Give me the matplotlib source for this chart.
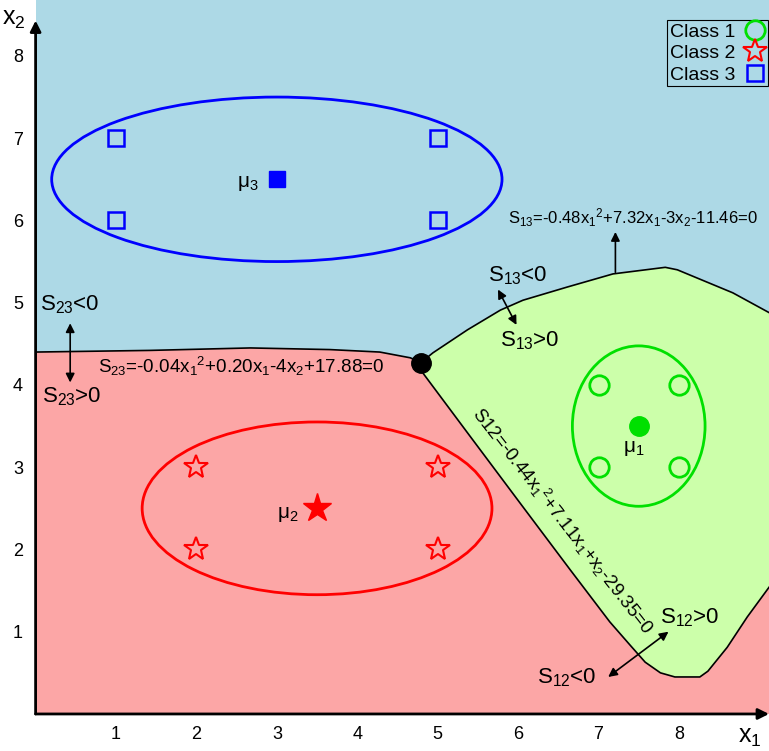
import numpy as np
import matplotlib
matplotlib.use("Agg")
import matplotlib.pyplot as plt
from matplotlib.patches import Ellipse

plt.rcParams['font.family'] = ['Liberation Sans', 'DejaVu Sans']
plt.rcParams['mathtext.fontset'] = 'custom'
plt.rcParams['mathtext.rm'] = 'Liberation Sans'
plt.rcParams['mathtext.it'] = 'Liberation Sans'

# samples of the three classes
class1_x = [7, 8, 7, 8]
class1_y = [4, 4, 3, 3]
class2_x = [2, 5, 2, 5]
class2_y = [3, 3, 2, 2]
class3_x = [1, 5, 1, 5]
class3_y = [7, 7, 6, 6]

# class means
mu_x = [7.5, 3.5, 3.0]
mu_y = [3.5, 2.5, 6.5]

# ellipse (width, height) around each mean
ell_w = [1.65, 4.35, 5.6]
ell_h = [1.95, 2.1, 2.0]

# decision boundaries (start at the triple point)
s23_x = [0.0, 1.42, 2.67, 3.66, 4.28, 4.66, 4.79]
s23_y = [4.40, 4.42, 4.45, 4.43, 4.40, 4.33, 4.27]
s13_x = [4.79, 4.94, 5.37, 5.78, 6.06, 6.61, 7.18, 7.83, 7.98, 8.67, 9.12]
s13_y = [4.27, 4.39, 4.67, 4.91, 5.03, 5.19, 5.35, 5.43, 5.40, 5.12, 4.88]
s12_x = [4.79, 4.82, 5.40, 6.02, 6.65, 7.14, 7.39, 7.58, 7.77, 7.95, 8.26, 8.36, 8.60, 8.85, 9.12]
s12_y = [4.27, 4.14, 3.38, 2.57, 1.75, 1.12, 0.84, 0.63, 0.50, 0.45, 0.45, 0.52, 0.81, 1.18, 1.54]

x_ticks = [1, 2, 3, 4, 5, 6, 7, 8]
y_ticks = [1, 2, 3, 4, 5, 6, 7, 8]

XMAX, YMAX = 9.12, 8.68

blue_bg = '#add9e6'
red_bg = '#fca6a6'
green_bg = '#ccffaa'
green = '#00e000'

fig = plt.figure(figsize=(7.69, 7.51), dpi=100)
ax = fig.add_axes([0.0463, 0.0493, 0.9537, 0.9507])
ax.set_facecolor(blue_bg)
ax.set_xlim(0, XMAX)
ax.set_ylim(0, YMAX)

# regions
red_poly = [(0, 0)] + list(zip(s23_x, s23_y)) + list(zip(s12_x[1:], s12_y[1:])) + [(XMAX, 0)]
ax.fill(*zip(*red_poly), color=red_bg, lw=0, zorder=1)
green_poly = list(zip(s13_x, s13_y)) + list(zip(s12_x[::-1], s12_y[::-1]))
ax.fill(*zip(*green_poly), color=green_bg, lw=0, zorder=1)

for bx, by in [(s23_x, s23_y), (s13_x, s13_y), (s12_x, s12_y)]:
    ax.plot(bx, by, color='black', lw=1.2, zorder=2)
ax.plot(s12_x[0], s12_y[0], 'o', color='black', ms=14, zorder=6)

# ellipses
for cx, cy, w, h, c in zip(mu_x, mu_y, ell_w, ell_h, [green, 'red', 'blue']):
    ax.add_patch(Ellipse((cx, cy), w, h, fill=False, ec=c, lw=2, zorder=3))

# samples
ax.plot(class1_x, class1_y, 'o', mfc='none', mec=green, mew=2, ms=14, ls='none', zorder=4, label='Class 1')
ax.plot(class2_x, class2_y, '*', mfc='none', mec='red', mew=1.5, ms=18, ls='none', zorder=4, label='Class 2')
ax.plot(class3_x, class3_y, 's', mfc='none', mec='blue', mew=1.8, ms=11, ls='none', zorder=4, label='Class 3')

# means
ax.plot(mu_x[0], mu_y[0], 'o', color=green, ms=14, zorder=5)
ax.plot(mu_x[1], mu_y[1], '*', color='red', ms=21, zorder=5)
ax.plot(mu_x[2], mu_y[2], 's', color='blue', ms=11, zorder=5)
ax.text(mu_x[0] - 0.06, mu_y[0] - 0.27, 'μ$_1$', fontsize=15, ha='center', va='center')
ax.text(mu_x[1] - 0.36, mu_y[1] - 0.07, 'μ$_2$', fontsize=15, ha='center', va='center')
ax.text(mu_x[2] - 0.36, mu_y[2] - 0.05, 'μ$_3$', fontsize=15, ha='center', va='center')

# equations
ax.text(5.88, 6.03, r'$\mathregular{S_{13}}$=-0.48x$_1$$^2$+7.32x$_1$-3x$_2$-11.46=0',
        fontsize=12, ha='left', va='center')
ax.text(2.55, 4.22, r'$\mathregular{S_{23}}$=-0.04x$_1$$^2$+0.20x$_1$-4x$_2$+17.88=0',
        fontsize=13.5, ha='center', va='center')
ax.text(6.55, 2.35, 'S12=-0.44x$_1$$^2$+7.11x$_1$+x$_2$-29.35=0',
        fontsize=13.5, ha='center', va='center', rotation=-52, rotation_mode='anchor')

arr = dict(arrowstyle='<|-|>', color='black', lw=1.2, mutation_scale=13, shrinkA=0, shrinkB=0)
ax.annotate('', xy=(7.21, 5.86), xytext=(7.21, 5.37),
            arrowprops=dict(arrowstyle='-|>', color='black', lw=1.2, mutation_scale=13, shrinkA=0, shrinkB=0))
ax.annotate('', xy=(5.75, 5.16), xytext=(5.98, 4.73), arrowprops=arr)
ax.annotate('', xy=(0.43, 4.75), xytext=(0.43, 4.03), arrowprops=arr)
ax.annotate('', xy=(7.12, 0.45), xytext=(7.87, 1.0), arrowprops=arr)

ax.text(5.99, 5.33, 'S$_{13}$<0', fontsize=16, ha='center', va='center')
ax.text(6.15, 4.54, 'S$_{13}$>0', fontsize=16, ha='center', va='center')
ax.text(0.43, 4.98, 'S$_{23}$<0', fontsize=16, ha='center', va='center')
ax.text(0.45, 3.86, 'S$_{23}$>0', fontsize=16, ha='center', va='center')
ax.text(8.14, 1.17, 'S$_{12}$>0', fontsize=16, ha='center', va='center')
ax.text(6.61, 0.44, 'S$_{12}$<0', fontsize=16, ha='center', va='center')

# axes with arrows
for s in ax.spines.values():
    s.set_visible(False)
ax.annotate('', xy=(XMAX, 0), xytext=(0, 0), annotation_clip=False,
            arrowprops=dict(arrowstyle='-|>', color='black', lw=2, mutation_scale=16, shrinkA=0, shrinkB=0))
ax.annotate('', xy=(0, 8.43), xytext=(0, 0), annotation_clip=False,
            arrowprops=dict(arrowstyle='-|>', color='black', lw=2, mutation_scale=16, shrinkA=0, shrinkB=0))
ax.text(8.88, -0.28, 'x$_1$', fontsize=18, ha='center', va='center')
ax.text(-0.27, 8.45, 'x$_2$', fontsize=18, ha='center', va='center')

ax.set_xticks(x_ticks)
ax.set_yticks(y_ticks)
ax.tick_params(length=0, labelsize=13, pad=9)

leg = ax.legend(loc='upper right', bbox_to_anchor=(0.998, 0.972), fontsize=14, markerfirst=False,
                frameon=True, fancybox=False, edgecolor='black', facecolor=blue_bg, framealpha=1,
                handlelength=1.0, handletextpad=0.5, borderpad=0.15, labelspacing=0.2, borderaxespad=0)
leg.get_frame().set_linewidth(0.8)
leg.set_zorder(10)

fig.savefig('out.png', dpi=100)
